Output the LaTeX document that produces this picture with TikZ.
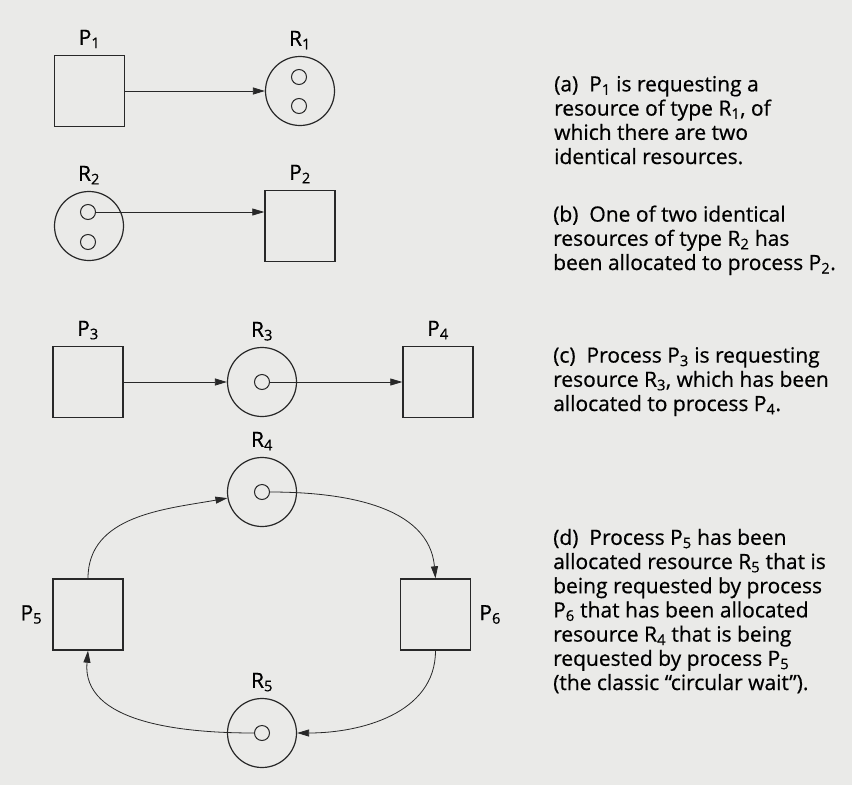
\documentclass[tikz,border=0pt]{standalone}
\usepackage{fontspec}
\setmainfont{Open Sans}[FakeBold=0.6]
\usetikzlibrary{arrows.meta}
\definecolor{paper}{RGB}{234,234,232}
\definecolor{ink}{RGB}{40,40,40}
\newcommand\subx[1]{\textsubscript{#1}}
\tikzset{
  proc/.style={draw=ink, line width=1.4pt, minimum width=70pt, minimum height=71pt, inner sep=0pt},
  res/.style={draw=ink, line width=1.2pt, circle, minimum size=69pt, inner sep=0pt},
  tok/.style={draw=ink, line width=1pt, circle, minimum size=15pt, inner sep=0pt},
  lbl/.style={font=\fontsize{21}{24}\selectfont, inner sep=0pt, text=black},
  captxt/.style={font=\fontsize{21}{24.2}\selectfont, align=left, inner sep=0pt, anchor=base west, text=black},
  arr/.style={draw=ink, line width=0.8pt, -{Triangle[length=12pt,width=7pt]}}
}
\begin{document}
\begin{tikzpicture}[x=1pt,y=-1pt]
\fill[paper] (0,0) rectangle (852,785);
\useasboundingbox (0,0) rectangle (852,785);
% (a)
\node[proc] (P1) at (89.5,91) {};
\node[res] (R1) at (300,91) {};
\node[tok] (t1a) at (299,77) {};
\node[tok] (t1b) at (299,106) {};
\node[lbl, anchor=base] (P1l) at ([yshift=10pt]P1.north) {P\subx{1}};
\node[lbl, anchor=base] (R1l) at ([yshift=10pt]R1.north) {R\subx{1}};
\draw[arr] (P1) -- (R1);
% (b)
\node[res] (R2) at (89,226) {};
\node[tok] (t2a) at (88,212) {};
\node[tok] (t2b) at (88,242) {};
\node[proc] (P2) at (300,226) {};
\node[lbl, anchor=base] (R2l) at ([yshift=10pt]R2.north) {R\subx{2}};
\node[lbl, anchor=base] (P2l) at ([yshift=10pt]P2.north) {P\subx{2}};
\draw[arr] (t2a.east) -- (t2a.east -| P2.west);
% (c)
\node[proc] (P3) at (88,382) {};
\node[res] (R3) at (262,382) {};
\node[tok] (t3) at (262,382) {};
\node[proc] (P4) at (438,382) {};
\node[lbl, anchor=base] (P3l) at ([yshift=10pt]P3.north) {P\subx{3}};
\node[lbl, anchor=base] (R3l) at ([yshift=10pt]R3.north) {R\subx{3}};
\node[lbl, anchor=base] (P4l) at ([yshift=10pt]P4.north) {P\subx{4}};
\draw[arr] (P3) -- (R3);
\draw[arr] (t3) -- (P4);
% (d)
\node[res] (R4) at (262,492) {};
\node[tok] (t4) at (262,492) {};
\node[proc] (P5) at (88,614.5) {};
\node[proc] (P6) at (435.5,614.5) {};
\node[res] (R5) at (262,733) {};
\node[tok] (t5) at (262,733) {};
\node[lbl, anchor=base] (R4l) at ([yshift=10pt]R4.north) {R\subx{4}};
\node[lbl, anchor=base] (R5l) at ([yshift=10pt]R5.north) {R\subx{5}};
\node[lbl, anchor=east] (P5l) at ([xshift=-10pt]P5.west) {P\subx{5}};
\node[lbl, anchor=west] (P6l) at ([xshift=8pt]P6.east) {P\subx{6}};
\draw[arr] (P5.north) to[out=90,in=190] (R4.190);
\draw[arr] (t4.east) to[out=0,in=95] (P6.north);
\draw[arr] (P6.south) to[out=-90,in=0] (R5.east);
\draw[arr] (t5.west) to[out=180,in=-95] (P5.south);
% captions (anchored at baseline of last line)
\node[captxt] (ca) at (554,164) {(a)\ \ P\subx{1} is requesting a\\resource of type R\subx{1}, of\\which there are two\\identical resources.};
\node[captxt] (cb) at (553,270) {(b)\ \ One of two identical\\resources of type R\subx{2} has\\been allocated to process P\subx{2}.};
\node[captxt] (cc) at (553,411) {(c)\ \ Process P\subx{3} is requesting\\resource R\subx{3}, which has been\\allocated to process P\subx{4}.};
\node[captxt] (cd) at (553,690) {(d)\ \ Process P\subx{5} has been\\allocated resource R\subx{5} that is\\being requested by process\\P\subx{6} that has been allocated\\resource R\subx{4} that is being\\requested by process P\subx{5}\\(the classic ``circular wait'').};
\end{tikzpicture}
\end{document}
